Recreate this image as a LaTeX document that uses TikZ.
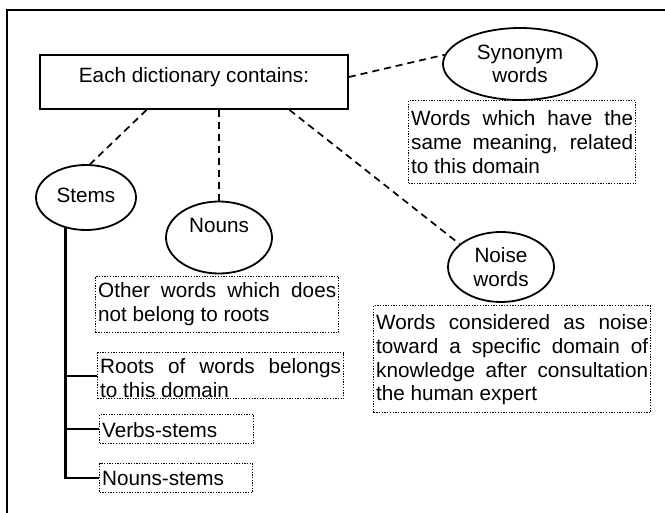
\documentclass[tikz,border=0pt]{standalone}
\usepackage{fontspec}
\setmainfont{Liberation Sans}
\usetikzlibrary{shapes.geometric,calc}
\begin{document}
\begin{tikzpicture}[x=1pt,y=-1pt,
  font=\fontsize{20.7}{23.7}\selectfont,
  frame/.style={line width=2.4pt},
  headbox/.style={draw,line width=1.8pt,minimum width=308pt,minimum height=54pt,inner sep=0pt},
  topic/.style={draw,ellipse,line width=1.8pt,inner sep=0pt,align=center},
  note/.style={draw,line width=1.3pt,dash pattern=on 1.3pt off 1.4pt,anchor=north west,
    align=justify,inner xsep=2.5pt,inner ysep=0pt,
    execute at begin node={\tolerance=9999 }},
  link/.style={line width=1.7pt,dash pattern=on 7pt off 5pt},
  branch/.style={line width=2.2pt}]
\useasboundingbox (0,0) rectangle (665,513);

% outer frame (runs off the right and bottom edges)
\draw[frame] (7,513) -- (7,10) -- (665,10);

% heading box
\node[headbox,text height=9pt,text depth=7pt] (dict) at (194,82) {Each dictionary contains:};

% topic ellipses
\node[topic,minimum width=154pt,minimum height=72pt] (syn) at (520,64) {Synonym\\words};
\node[topic,minimum width=100pt,minimum height=65pt,text height=15pt,text depth=4pt] (stems) at (86,197.5) {Stems};
\node[topic,minimum width=106pt,minimum height=72pt,text height=15pt,text depth=24pt] (nouns) at (219,237.5) {Nouns};
\node[topic,minimum width=106pt,minimum height=70pt] (noise) at (501,267) {Noise\\words};

% descriptions
\node[note,text width=222pt,text height=25pt,text depth=58pt] (syndesc) at (408,100)
  {Words which have the\linebreak same meaning, related\linebreak to this domain};
\node[note,text width=238pt,text height=21pt,text depth=35pt] (nounsdesc) at (95,276)
  {Other words which does\linebreak not belong to roots};
\node[note,text width=272pt,text height=24pt,text depth=83pt] (noisedesc) at (373,305)
  {Words considered as noise\linebreak toward a specific domain of\linebreak knowledge after consultation\linebreak the human expert};
\node[note,text width=241pt,text height=21pt,text depth=25pt] (roots) at (97,352)
  {Roots of words belongs\linebreak to this domain};
\node[note,text width=149pt,text height=23pt,text depth=6pt] (verbs) at (99,414) {Verbs-stems};
\node[note,text width=148pt,text height=22pt,text depth=7pt] (nstems) at (99,463) {Nouns-stems};

% dashed links from the heading
\draw[link] ($(dict.east)+(0,-5)$) -- (syn.173);
\draw[link] ($(dict.south west)!0.347!(dict.south east)$) -- (stems.83);
\draw[link] (nouns.north |- dict.south) -- (nouns.north);
\draw[link] ($(dict.south west)!0.808!(dict.south east)$) -- (noise.151);

% stems tree
\draw[branch] (stems.236) |- (nstems.west);
\draw[branch] (roots.west -| stems.236) -- (roots.west);
\draw[branch] (verbs.west -| stems.236) -- (verbs.west);
\end{tikzpicture}
\end{document}
